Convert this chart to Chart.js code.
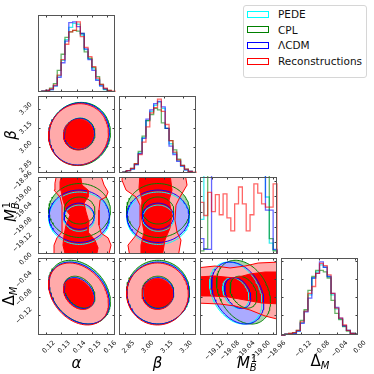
<!DOCTYPE html>
<html><head><meta charset="utf-8">
<script src="https://cdn.jsdelivr.net/npm/chart.js@4.4.1/dist/chart.umd.min.js"></script>
<style>
html,body{margin:0;padding:0;background:#fff;}
#wrap{position:relative;width:374px;height:374px;overflow:hidden;font-family:"DejaVu Sans",sans-serif;}
#wrap canvas{position:absolute;}
.ttl{position:absolute;font-family:"DejaVu Sans",sans-serif;font-size:15px;color:#000;white-space:nowrap;line-height:15px;transform:translate(-50%,-50%);}
.ttl.v{transform:translate(-50%,-50%) rotate(-90deg);}
.ttl sub{font-size:10px;vertical-align:-3px;}
.ttl sup{font-size:10px;vertical-align:6px;margin-left:-6px;}
#legend{position:absolute;left:243px;top:5px;width:124px;height:73px;border:1px solid #d6d6d6;border-radius:3px;background:#fff;box-sizing:border-box;}
.lg-patch{position:absolute;width:22px;height:7px;box-sizing:border-box;border:1.3px solid;background:#fff;}
.lg-text{position:absolute;font-family:"DejaVu Sans",sans-serif;font-size:10.5px;color:#111;line-height:12px;white-space:nowrap;}
</style></head><body><div id="wrap"></div>
<script>
// ================= DATA =================
const SERIES = ['PEDE', 'CPL', 'ΛCDM', 'Reconstructions'];

// axis ranges (alpha, beta, M_B^1, Delta_M)
const AXIS_MIN = [0.115, 2.80, -19.15, -0.163];
const AXIS_MAX = [0.165, 3.40, -18.95, 0.006];

// tick values
const TICKS_ALPHA = [0.12, 0.13, 0.14, 0.15, 0.16];
const TICKS_BETA = [2.85, 3.00, 3.15, 3.30];
const TICKS_MB = [-19.12, -19.08, -19.04, -19.00, -18.96];
const TICKS_DM = [-0.12, -0.08, -0.04, 0.00];

// 1D histograms (20 bins across the axis range, % of panel height)
const HIST_ALPHA_PEDE  = [0,1,1,3,8,21,41,68,84,89,88,74,55,43,30,16,8,3,1,0];
const HIST_ALPHA_CPL   = [0,1,2,5,11,28,49,71,78,80,79,76,52,44,32,20,10,4,2,0];
const HIST_ALPHA_LCDM  = [0,1,2,3,8,19,38,66,90,91,85,76,56,42,28,15,8,4,1,0];
const HIST_ALPHA_RECON = [0,1,2,4,9,22,42,62,78,80,91,72,58,46,33,18,10,5,2,1];

const HIST_BETA_PEDE  = [0,1,3,5,11,26,46,68,80,88,92,84,58,38,26,16,9,4,2,0];
const HIST_BETA_CPL   = [0,1,3,6,12,28,48,68,76,84,82,65,58,42,30,18,10,5,2,0];
const HIST_BETA_LCDM  = [0,1,3,5,11,25,45,70,82,90,93,86,58,35,24,15,9,4,2,0];
const HIST_BETA_RECON = [0,1,3,6,12,24,40,60,78,85,96,80,63,42,27,17,10,5,2,1];

// (values above 100 run off the top of the panel)
const HIST_MB_PEDE  = [45,400,400,400,400,400,400,400,400,400,400,400,400,400,400,400,400,74,14,5];
const HIST_MB_CPL   = [4,7,400,400,400,400,400,400,400,400,400,400,400,400,400,400,400,400,20,4];
const HIST_MB_LCDM  = [20,6,6,400,400,400,400,400,400,400,400,400,400,400,400,400,400,57,57,6];
const HIST_MB_RECON = [67,50,80,55,77,51,78,47,30,65,87,65,30,51,91,79,65,61,61,91];

const HIST_DM_PEDE  = [0,1,1,2,5,16,31,52,74,82,91,88,76,52,34,21,12,6,2,1];
const HIST_DM_CPL   = [0,1,2,3,6,19,33,58,76,84,84,82,74,45,28,20,11,5,2,1];
const HIST_DM_LCDM  = [0,1,1,2,5,15,30,48,74,80,95,88,76,54,36,22,12,6,2,1];
const HIST_DM_RECON = [0,1,2,3,6,17,31,54,63,80,93,90,78,54,35,22,13,6,2,1];

// 2D posterior summaries (per series: PEDE, CPL, ΛCDM, Reconstructions)
const MEAN_ALPHA = [0.1418, 0.1420, 0.1417, 0.1413];
const MEAN_BETA  = [3.106, 3.104, 3.104, 3.100];
const MEAN_MB    = [-19.057, -19.037, -19.052, -19.050];
const MEAN_DM    = [-0.071, -0.069, -0.071, -0.073];
const SIG_ALPHA  = [0.0099, 0.0100, 0.0098, 0.0097];
const SIG_BETA   = [0.122, 0.123, 0.121, 0.120];
const SIG_MB     = [0.034, 0.035, 0.034, null];
const SIG_DM     = [0.034, 0.035, 0.034, 0.034];
// correlations: [alpha-beta, alpha-MB, beta-MB, alpha-DM, beta-DM, MB-DM]
const RHO_PEDE  = [0.05, 0.0, 0.0, -0.30, 0.0, -0.30];
const RHO_CPL   = [0.05, 0.0, 0.0, -0.30, 0.0, -0.30];
const RHO_LCDM  = [0.05, 0.0, 0.0, -0.30, 0.0, -0.30];
const RHO_RECON = [0.05, 0.0, 0.0, -0.30, 0.0, 0.0];
const CONTOUR_LEVELS = [1, 2];   // inner / outer contour (in sigma)

// Reconstructions: irregular contours in the M_B^1 panels (data coordinates)
const RECON_ALPHA_MB_OUTER = [[0.1273,-18.940],[0.1553,-18.940],[0.1579,-18.971],[0.1605,-18.989],[0.1592,-19.002],[0.1553,-19.010],[0.1546,-19.036],[0.1546,-19.075],[0.1560,-19.096],[0.1605,-19.108],[0.1624,-19.127],[0.1605,-19.160],[0.1260,-19.160],[0.1254,-19.127],[0.1273,-19.108],[0.1306,-19.093],[0.1306,-19.062],[0.1306,-19.023],[0.1293,-19.002],[0.1254,-18.984],[0.1260,-18.966],[0.1273,-18.940]];
const RECON_ALPHA_MB_INNER = [[0.1306,-18.940],[0.1423,-18.940],[0.1436,-18.971],[0.1475,-18.984],[0.1475,-19.002],[0.1449,-19.018],[0.1462,-19.041],[0.1481,-19.067],[0.1475,-19.093],[0.1520,-19.114],[0.1540,-19.134],[0.1527,-19.160],[0.1332,-19.160],[0.1312,-19.127],[0.1319,-19.101],[0.1332,-19.075],[0.1358,-19.049],[0.1332,-19.036],[0.1312,-19.010],[0.1299,-18.984],[0.1293,-18.963],[0.1306,-18.940]];
const RECON_BETA_MB_OUTER = [[2.831,-18.940],[3.314,-18.940],[3.330,-18.971],[3.275,-19.002],[3.244,-19.023],[3.236,-19.062],[3.252,-19.093],[3.283,-19.114],[3.260,-19.160],[2.886,-19.160],[2.870,-19.127],[2.933,-19.101],[2.964,-19.075],[2.964,-19.023],[2.933,-19.002],[2.855,-18.984],[2.823,-18.958],[2.831,-18.940]];
const RECON_BETA_MB_INNER = [[2.964,-18.940],[3.197,-18.940],[3.213,-18.984],[3.190,-19.010],[3.213,-19.049],[3.197,-19.083],[3.158,-19.114],[3.135,-19.160],[2.971,-19.160],[2.971,-19.127],[2.995,-19.093],[2.971,-19.049],[2.979,-19.010],[2.956,-18.979],[2.964,-18.940]];
const RECON_MB_DM_OUTER = [[-19.160,-0.0159],[-19.111,-0.0116],[-19.072,-0.0159],[-19.033,-0.0116],[-18.999,-0.0050],[-18.940,-0.0028],[-18.940,-0.1301],[-18.981,-0.1213],[-19.020,-0.1081],[-19.059,-0.0994],[-19.098,-0.0950],[-19.160,-0.0928],[-19.160,-0.0159]];
const RECON_MB_DM_INNER = [[-19.160,-0.0357],[-19.111,-0.0335],[-19.059,-0.0379],[-19.020,-0.0291],[-18.981,-0.0247],[-18.940,-0.0247],[-18.940,-0.0950],[-18.989,-0.0928],[-19.033,-0.0862],[-19.077,-0.0796],[-19.119,-0.0774],[-19.160,-0.0774],[-19.160,-0.0357]];

// ================= STYLE =================
const LINE_COL  = ['#00ffff', '#008000', '#0000ff', '#ff0000'];
const HIST_COL  = ['rgba(0,230,230,0.75)', 'rgba(0,128,0,0.6)', 'rgba(0,0,255,0.6)', 'rgba(255,0,0,0.6)'];
const FILL_OUT  = ['#b2f4f4', '#a9d4a9', '#aaaaff', '#ffaaaa'];
const FILL_IN   = ['#7febeb', '#80c080', '#8080ff', '#ff0000'];

const TICKS = [TICKS_ALPHA, TICKS_BETA, TICKS_MB, TICKS_DM];
const HIST = [
  [HIST_ALPHA_PEDE, HIST_ALPHA_CPL, HIST_ALPHA_LCDM, HIST_ALPHA_RECON],
  [HIST_BETA_PEDE, HIST_BETA_CPL, HIST_BETA_LCDM, HIST_BETA_RECON],
  [HIST_MB_PEDE, HIST_MB_CPL, HIST_MB_LCDM, HIST_MB_RECON],
  [HIST_DM_PEDE, HIST_DM_CPL, HIST_DM_LCDM, HIST_DM_RECON]
];
const MEANS = [MEAN_ALPHA, MEAN_BETA, MEAN_MB, MEAN_DM];
const SIGS = [SIG_ALPHA, SIG_BETA, SIG_MB, SIG_DM];
const RHOS = [RHO_PEDE, RHO_CPL, RHO_LCDM, RHO_RECON];
const PAIR_INDEX = {'0-1':0, '0-2':1, '1-2':2, '0-3':3, '1-3':4, '2-3':5};
const RECON_POLY = {
  '0-2': [RECON_ALPHA_MB_INNER, RECON_ALPHA_MB_OUTER],
  '1-2': [RECON_BETA_MB_INNER, RECON_BETA_MB_OUTER],
  '2-3': [RECON_MB_DM_INNER, RECON_MB_DM_OUTER]
};

// ================= LAYOUT =================
const COL_X = [38, 119, 200, 281], ROW_Y = [15, 96, 177, 258], P = 77;
const YAX_W = 30, XAX_H = 26, M_TOP = 12, M_RIGHT = 14;
const TICK_FONT = 6.6;
const X_LABEL_OFFSET = [8.2, 8.2, 11.6, 9.8];
const Y_LABEL_OFFSET = [0, -5.2, -8.7, -7.0];
const X_TITLE_X = [76.5, 157.5, 247, 320];
const Y_TITLE_Y = [0, 134.5, 211.5, 296];

Chart.defaults.font.family = 'DejaVu Sans';
const wrap = document.getElementById('wrap');

function fmt(v) { return v.toFixed(2).replace('-', '\u2212'); }

function ellipse(cx, cy, sx, sy, rho, k) {
  const pts = [], s = Math.sqrt(1 - rho * rho), n = 120;
  for (let i = 0; i <= n; i++) {
    const t = 2 * Math.PI * i / n;
    pts.push({x: cx + k * sx * Math.cos(t), y: cy + k * sy * (rho * Math.cos(t) + s * Math.sin(t))});
  }
  return pts;
}

// contour (level index: 0 inner, 1 outer) of series s in panel (c, r)
function contour(s, c, r, li) {
  const key = c + '-' + r;
  if (s === 3 && RECON_POLY[key]) return RECON_POLY[key][li].map(p => ({x: p[0], y: p[1]}));
  return ellipse(MEANS[c][s], MEANS[r][s], SIGS[c][s], SIGS[r][s], RHOS[s][PAIR_INDEX[key]], CONTOUR_LEVELS[li]);
}

const frameTicks = {
  id: 'frameTicks',
  afterDatasetsDraw(chart, args, opts) {
    const {ctx, chartArea: a} = chart;
    ctx.save();
    ctx.strokeStyle = '#3a3a3a';
    ctx.lineWidth = 1;
    const L = 2.5;
    const seg = (x1, y1, x2, y2) => { ctx.beginPath(); ctx.moveTo(x1, y1); ctx.lineTo(x2, y2); ctx.stroke(); };
    const xs = chart.scales.x;
    (opts.xticks || []).forEach(v => {
      const p = Math.round(xs.getPixelForValue(v)) + 0.5;
      seg(p, a.bottom, p, a.bottom - L); seg(p, a.top, p, a.top + L);
    });
    if (opts.yticks) {
      const ys = chart.scales[opts.yScale];
      opts.yticks.forEach(v => {
        const p = Math.round(ys.getPixelForValue(v)) + 0.5;
        seg(a.left, p, a.left + L, p); seg(a.right, p, a.right - L, p);
      });
    }
    ctx.strokeStyle = '#555';
    ctx.strokeRect(a.left + 0.5, a.top + 0.5, a.width - 1, a.height - 1);
    ctx.restore();
  }
};

function axis(p, show, pos) {
  const horiz = pos === 'bottom';
  return {
    type: 'linear', min: AXIS_MIN[p], max: AXIS_MAX[p], position: pos, display: show,
    grid: {display: false, drawTicks: false}, border: {display: false},
    afterBuildTicks: s => { s.ticks = TICKS[p].map(v => ({value: v})); },
    ticks: {
      autoSkip: false, minRotation: 45, maxRotation: 45, color: '#111',
      font: {family: 'DejaVu Sans', size: TICK_FONT}, padding: horiz ? 4 : 7,
      labelOffset: horiz ? X_LABEL_OFFSET[p] : Y_LABEL_OFFSET[p],
      callback: v => fmt(v)
    },
    afterFit: s => {
      if (horiz) s.height = show ? XAX_H : 0; else s.width = show ? YAX_W : 0;
      s.paddingLeft = 0; s.paddingRight = 0; s.paddingTop = 0; s.paddingBottom = 0;
    }
  };
}

function makeCanvas(r, c) {
  const L = (c === 0 && r > 0) ? YAX_W : 0;
  const B = (r === 3) ? XAX_H : 0;
  const cv = document.createElement('canvas');
  const w = P + L + M_RIGHT, h = P + B + M_TOP;
  cv.width = w; cv.height = h;
  cv.style.left = (COL_X[c] - L) + 'px'; cv.style.top = (ROW_Y[r] - M_TOP) + 'px';
  cv.style.width = w + 'px'; cv.style.height = h + 'px';
  wrap.appendChild(cv);
  return cv;
}

const baseOpts = () => ({
  responsive: false, maintainAspectRatio: false, animation: false, devicePixelRatio: 1, events: [],
  layout: {padding: {top: M_TOP, right: M_RIGHT, left: 0, bottom: 0}},
  plugins: {legend: {display: false}, tooltip: {enabled: false}}
});

function histChart(k) {
  const cv = makeCanvas(k, k);
  const n = HIST[k][0].length;
  const edges = [];
  for (let i = 0; i <= n; i++) edges.push(AXIS_MIN[k] + i * (AXIS_MAX[k] - AXIS_MIN[k]) / n);
  const datasets = HIST[k].map((vals, s) => {
    const data = [{x: edges[0], y: 0}];
    vals.forEach((v, i) => data.push({x: edges[i], y: v}));
    data.push({x: edges[n], y: vals[n - 1]});
    data.push({x: edges[n], y: 0});
    return {label: SERIES[s], data, showLine: true, stepped: 'before', pointRadius: 0,
            borderColor: HIST_COL[s], borderWidth: 1.3, fill: false, order: 10 - s, clip: 1};
  });
  const opts = baseOpts();
  opts.scales = {
    x: axis(k, k === 3, 'bottom'),
    y: {type: 'linear', min: 0, max: 100, display: false}
  };
  opts.plugins.frameTicks = {xticks: TICKS[k]};
  if (k > 0) {
    opts.scales.yr = {type: 'linear', axis: 'y', min: AXIS_MIN[k], max: AXIS_MAX[k], display: false};
    opts.plugins.frameTicks.yticks = TICKS[k];
    opts.plugins.frameTicks.yScale = 'yr';
  }
  new Chart(cv, {type: 'scatter', data: {datasets}, options: opts, plugins: [frameTicks]});
}

function contourChart(r, c) {
  const cv = makeCanvas(r, c);
  const datasets = [];
  let ord = 1000;
  // fills, bottom -> top: PEDE, CPL, ΛCDM, Reconstructions (outer then inner)
  for (let s = 0; s < 4; s++) {
    [1, 0].forEach(li => {
      datasets.push({
        data: contour(s, c, r, li), showLine: true, pointRadius: 0, borderWidth: 0, tension: 0,
        backgroundColor: li === 1 ? FILL_OUT[s] : FILL_IN[s], fill: 'shape', order: ord--, clip: 0
      });
    });
  }
  // contour lines on top
  for (let s = 0; s < 4; s++) {
    [1, 0].forEach(li => {
      datasets.push({
        data: contour(s, c, r, li), showLine: true, pointRadius: 0, borderWidth: 1, tension: 0,
        borderColor: LINE_COL[s], fill: false, order: ord--, clip: 0
      });
    });
  }
  const opts = baseOpts();
  opts.scales = {x: axis(c, r === 3, 'bottom'), y: axis(r, c === 0, 'left')};
  opts.plugins.frameTicks = {xticks: TICKS[c], yticks: TICKS[r], yScale: 'y'};
  new Chart(cv, {type: 'scatter', data: {datasets}, options: opts, plugins: [frameTicks]});
}

for (let r = 0; r < 4; r++) {
  for (let c = 0; c <= r; c++) {
    if (r === c) histChart(r); else contourChart(r, c);
  }
}

// ---- axis titles ----
const TITLE_HTML = ['<i>α</i>', '<i>β</i>', '<i>M</i><sub><i>B</i></sub><sup>1</sup>', 'Δ<sub><i>M</i></sub>'];
for (let k = 0; k < 4; k++) {
  const d = document.createElement('div');
  d.className = 'ttl'; d.innerHTML = TITLE_HTML[k];
  d.style.left = X_TITLE_X[k] + 'px'; d.style.top = '363px';
  wrap.appendChild(d);
  if (k > 0) {
    const e = document.createElement('div');
    e.className = 'ttl v'; e.innerHTML = TITLE_HTML[k];
    e.style.left = '11px'; e.style.top = Y_TITLE_Y[k] + 'px';
    wrap.appendChild(e);
  }
}

// ---- legend ----
const lg = document.createElement('div'); lg.id = 'legend'; wrap.appendChild(lg);
const LG_Y = [14.3, 29.8, 45.3, 61];
SERIES.forEach((name, s) => {
  const p = document.createElement('div'); p.className = 'lg-patch';
  p.style.borderColor = LINE_COL[s];
  p.style.left = (247 - 244) + 'px'; p.style.top = (LG_Y[s] - 3.5 - 6) + 'px';
  lg.appendChild(p);
  const t = document.createElement('div'); t.className = 'lg-text'; t.textContent = name;
  t.style.left = (278 - 244) + 'px'; t.style.top = (LG_Y[s] - 6 - 6) + 'px';
  lg.appendChild(t);
});
</script></body></html>
